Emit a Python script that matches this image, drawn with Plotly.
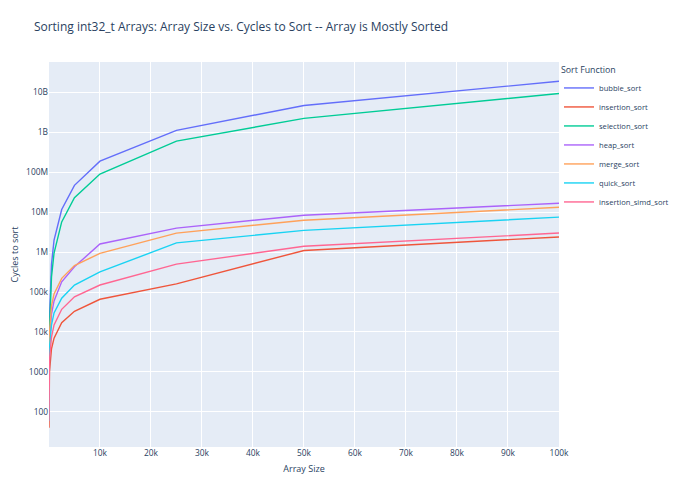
import plotly.graph_objects as go

# array sizes tested
sizes = [10, 100, 500, 1000, 2500, 5000, 10000, 25000, 50000, 100000]

# cycles to sort
bubble_sort = [60, 2.2e4, 5.0e5, 2.0e6, 1.17e7, 4.7e7, 1.9e8, 1.12e9, 4.7e9, 1.9e10]
insertion_sort = [40, 1.0e3, 3.8e3, 7.0e3, 1.7e4, 3.3e4, 6.6e4, 1.6e5, 1.1e6, 2.4e6]
selection_sort = [100, 1.1e4, 2.4e5, 9.5e5, 5.7e6, 2.3e7, 9.0e7, 6.0e8, 2.24e9, 9.4e9]
heap_sort = [60, 6.0e3, 2.8e4, 6.0e4, 1.8e5, 4.3e5, 1.6e6, 4.0e6, 8.4e6, 1.68e7]
merge_sort = [60, 9.0e3, 4.5e4, 9.0e4, 2.2e5, 4.6e5, 9.3e5, 3.0e6, 6.3e6, 1.33e7]
quick_sort = [60, 4.0e3, 1.5e4, 3.0e4, 7.0e4, 1.5e5, 3.2e5, 1.7e6, 3.5e6, 7.5e6]
insertion_simd_sort = [60, 2.0e3, 7.5e3, 1.5e4, 3.7e4, 7.6e4, 1.5e5, 5.0e5, 1.4e6, 3.0e6]

series = {
    "bubble_sort": bubble_sort,
    "insertion_sort": insertion_sort,
    "selection_sort": selection_sort,
    "heap_sort": heap_sort,
    "merge_sort": merge_sort,
    "quick_sort": quick_sort,
    "insertion_simd_sort": insertion_simd_sort,
}

colours = ["#636efa", "#EF553B", "#00cc96", "#ab63fa", "#FFA15A", "#19d3f3", "#FF6692"]

fig = go.Figure()
for (name, vals), col in zip(series.items(), colours):
    fig.add_trace(
        go.Scatter(
            x=sizes,
            y=vals,
            mode="lines",
            name=name,
            line=dict(color=col, width=1.4),
        )
    )

fig.update_layout(
    template="plotly",
    title=dict(
        text="Sorting int32_t Arrays: Array Size vs. Cycles to Sort -- Array is Mostly Sorted",
        x=0.039,
        xanchor="left",
        y=0.96,
        yanchor="middle",
        font=dict(size=12),
    ),
    width=664,
    height=480,
    margin=dict(l=41, r=113, t=54, b=41, autoexpand=False),
    legend=dict(
        title=dict(text="Sort Function", font=dict(size=8.8)),
        font=dict(size=7.6),
        itemwidth=30,
        x=1.0,
        y=1.0,
    ),
    xaxis=dict(
        title=dict(text="Array Size", font=dict(size=9), standoff=8),
        tickfont=dict(size=8.4),
        dtick=10000,
        automargin=False,
    ),
    yaxis=dict(
        type="log",
        title=dict(text="Cycles to sort", font=dict(size=9)),
        tickfont=dict(size=8.4),
        automargin=False,
    ),
)

fig.write_html("out.html")
